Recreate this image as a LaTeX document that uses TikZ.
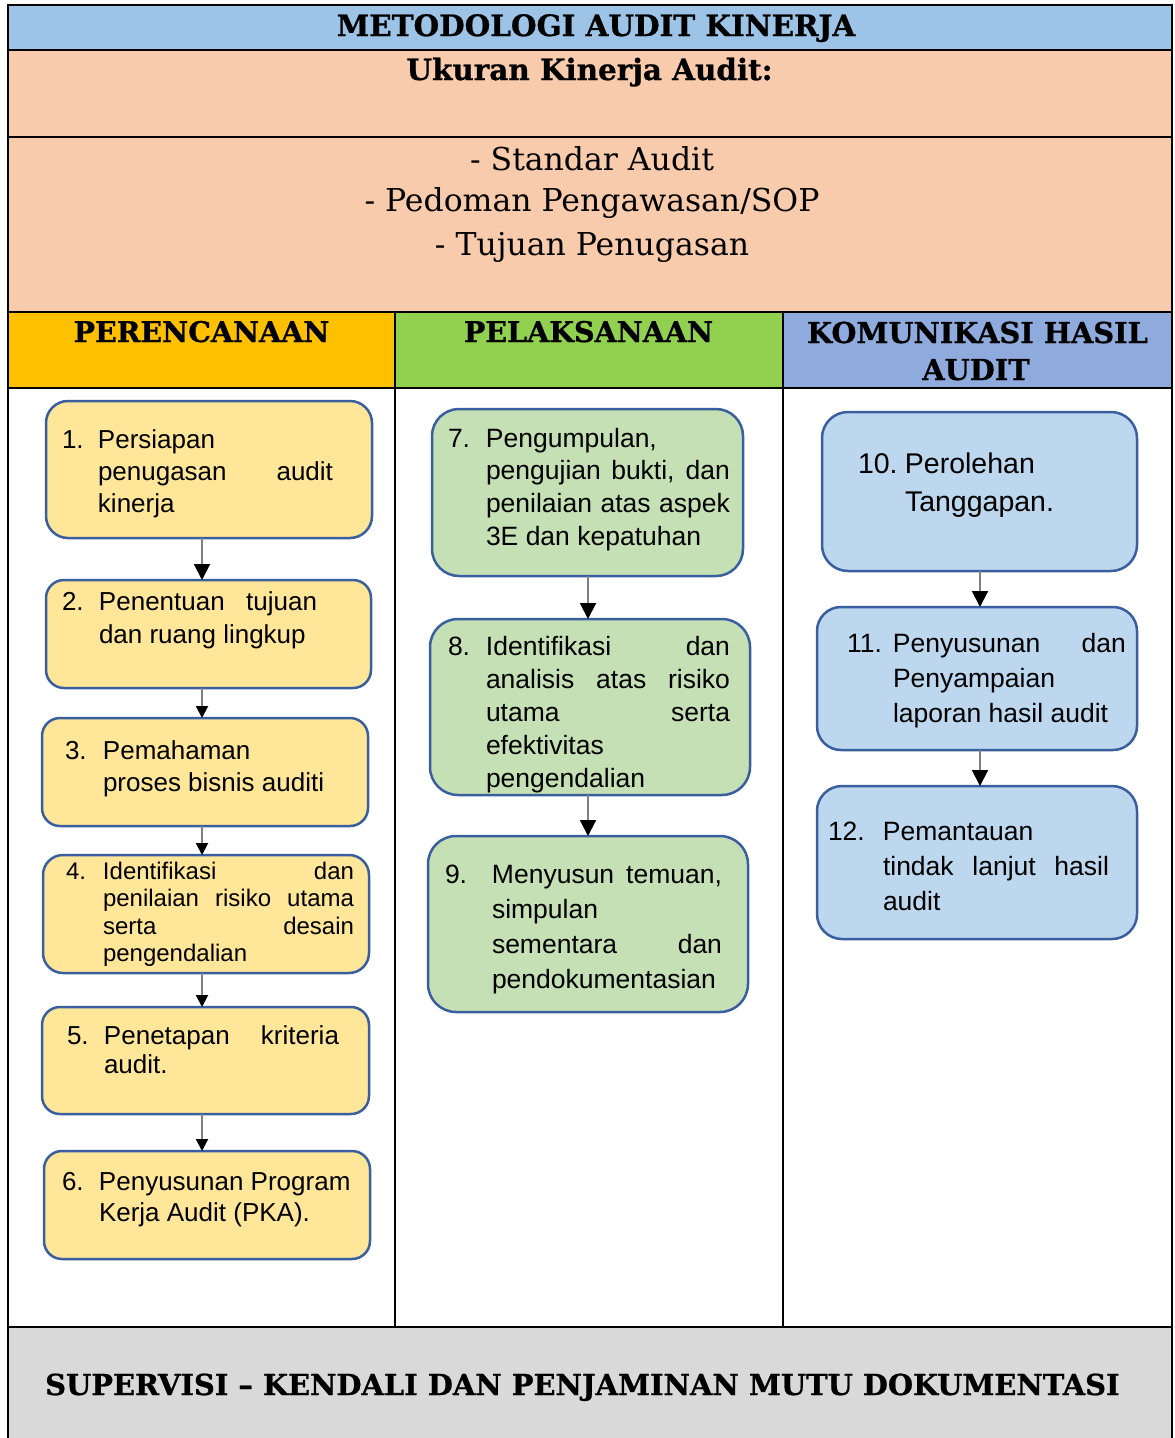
\documentclass[tikz,border=0pt]{standalone}
\usepackage{fontspec}
\setmainfont{Liberation Sans}
\newfontfamily\dserif{DejaVu Serif}
\newfontfamily\hdrfont[FakeBold=0.8]{DejaVu Serif Bold}
\usetikzlibrary{arrows.meta,calc}
\definecolor{titleblue}{HTML}{9DC3E6}
\definecolor{peach}{HTML}{F8CBAD}
\definecolor{horange}{HTML}{FFC000}
\definecolor{hgreen}{HTML}{92D050}
\definecolor{hblue}{HTML}{8FAADC}
\definecolor{lgray}{HTML}{D9D9D9}
\definecolor{byel}{HTML}{FFE699}
\definecolor{bgrn}{HTML}{C5E0B4}
\definecolor{bblu}{HTML}{BDD7EE}
\definecolor{bord}{HTML}{3A5F9E}
\newcommand{\nm}[2]{\makebox[#1pt][l]{#2}}
\newcommand{\ind}[1]{\hspace*{#1pt}}
\newcommand{\jst}[2]{\makebox[#1pt][s]{#2}}
\newcommand{\hdr}[2]{{\hdrfont\fontsize{#1}{32}\selectfont #2}}
\begin{document}
\begin{tikzpicture}[x=1pt,y=-1pt,
  frame/.style={draw=black,line width=2.5pt},
  bxs/.style={draw=bord,line width=2.5pt,anchor=north west,inner sep=0pt,outer sep=0pt},
  tx/.style={anchor=base west,inner sep=0pt,outer sep=0pt},
  arr/.style={draw=black!50,line width=2pt,-{Triangle[color=black,width=12pt,length=12pt]}},
  arrbig/.style={draw=black!50,line width=2pt,-{Triangle[color=black,width=16pt,length=16pt]}}]
\useasboundingbox (0,0) rectangle (1175,1438);
% table background
\fill[titleblue] (8,5) rectangle (1172,50);
\fill[peach] (8,50) rectangle (1172,312);
\fill[horange] (8,312) rectangle (395,388);
\fill[hgreen] (395,312) rectangle (783,388);
\fill[hblue] (783,312) rectangle (1172,388);
\fill[white] (8,388) rectangle (1172,1327);
\fill[lgray] (8,1327) rectangle (1172,1438);
\draw[frame] (8,1438) -- (8,5) -- (1172,5) -- (1172,1438);
\draw[frame] (8,50) -- (1172,50);
\draw[frame] (8,137) -- (1172,137);
\draw[frame] (8,312) -- (1172,312);
\draw[frame] (8,388) -- (1172,388);
\draw[frame] (8,1327) -- (1172,1327);
\draw[frame] (395,312) -- (395,1327);
\draw[frame] (783,312) -- (783,1327);
% header texts
\node[anchor=base,inner sep=0pt] (title) at (596,36) {\hdr{29.4}{METODOLOGI AUDIT KINERJA}};
\node[anchor=base,inner sep=0pt] (ukuran) at (589.5,80) {\hdr{29.4}{Ukuran Kinerja Audit:}};
\node[anchor=base,inner sep=0pt] (l1) at (592,170) {\dserif\fontsize{31.5}{35}\selectfont - Standar Audit};
\node[anchor=base,inner sep=0pt] (l2) at (592,211) {\dserif\fontsize{31.5}{35}\selectfont - Pedoman Pengawasan/SOP};
\node[anchor=base,inner sep=0pt] (l3) at (592,255) {\dserif\fontsize{31.5}{35}\selectfont - Tujuan Penugasan};
\node[anchor=base,inner sep=0pt] (h1) at (201.5,342) {\hdr{28.5}{PERENCANAAN}};
\node[anchor=base,inner sep=0pt] (h2) at (588.5,342) {\hdr{28.5}{PELAKSANAAN}};
\node[anchor=base,inner sep=0pt] (h3) at (977.5,343) {\hdr{28.8}{KOMUNIKASI HASIL}};
\node[anchor=base,inner sep=0pt] (h3b) at (976,380) {\hdr{28.8}{AUDIT}};
\node[anchor=base west,inner sep=0pt] (sup) at (45,1395) {\hdr{28.9}{SUPERVISI – KENDALI DAN PENJAMINAN MUTU DOKUMENTASI}};
% column 1 boxes
\node[bxs,fill=byel,minimum width=326pt,minimum height=137pt,rounded corners=22pt] (b1) at (46,401) {};
\node[bxs,fill=byel,minimum width=325pt,minimum height=108pt,rounded corners=18pt] (b2) at (46,580) {};
\node[bxs,fill=byel,minimum width=326pt,minimum height=108pt,rounded corners=18pt] (b3) at (42,718) {};
\node[bxs,fill=byel,minimum width=326pt,minimum height=118pt,rounded corners=20pt] (b4) at (43,855) {};
\node[bxs,fill=byel,minimum width=327pt,minimum height=107pt,rounded corners=18pt] (b5) at (42,1007) {};
\node[bxs,fill=byel,minimum width=326pt,minimum height=108pt,rounded corners=18pt] (b6) at (44,1151) {};
% column 2 boxes
\node[bxs,fill=bgrn,minimum width=311pt,minimum height=167pt,rounded corners=27pt] (b7) at (432,409) {};
\node[bxs,fill=bgrn,minimum width=320pt,minimum height=176pt,rounded corners=28pt] (b8) at (430,619) {};
\node[bxs,fill=bgrn,minimum width=320pt,minimum height=176pt,rounded corners=28pt] (b9) at (428,836) {};
% column 3 boxes
\node[bxs,fill=bblu,minimum width=315pt,minimum height=159pt,rounded corners=26pt] (b10) at (822,412) {};
\node[bxs,fill=bblu,minimum width=320pt,minimum height=143pt,rounded corners=24pt] (b11) at (817,607) {};
\node[bxs,fill=bblu,minimum width=320pt,minimum height=153pt,rounded corners=25pt] (b12) at (817,786) {};
% texts
\node[tx] (t1) at (62,448) {\parbox[t]{330pt}{\fontsize{26}{32.3}\selectfont\nm{36}{1.}Persiapan\\\ind{36}\jst{235}{penugasan audit}\\\ind{36}kinerja}};
\node[tx] (t2) at (62,610) {\parbox[t]{330pt}{\fontsize{26}{33}\selectfont\nm{37}{2.}\jst{218}{Penentuan tujuan}\\\ind{37}dan ruang lingkup}};
\node[tx] (t3) at (65,759) {\parbox[t]{330pt}{\fontsize{26}{32}\selectfont\nm{38}{3.}Pemahaman\\\ind{38}proses bisnis auditi}};
\node[tx] (t4) at (66,879) {\parbox[t]{330pt}{\fontsize{24}{27.5}\selectfont\nm{37}{4.}\jst{251}{Identifikasi dan}\\\ind{37}\jst{251}{penilaian risiko utama}\\\ind{37}\jst{251}{serta desain}\\\ind{37}pengendalian}};
\node[tx] (t5) at (67,1044) {\parbox[t]{330pt}{\fontsize{26}{29.5}\selectfont\nm{37}{5.}\jst{235}{Penetapan kriteria}\\\ind{37}audit.}};
\node[tx] (t6) at (62,1190) {\parbox[t]{330pt}{\fontsize{26}{31}\selectfont\nm{37}{6.}Penyusunan Program\\\ind{37}Kerja Audit (PKA).}};
\node[tx] (t7) at (448,447) {\parbox[t]{330pt}{\fontsize{26.5}{32.7}\selectfont\nm{38}{7.}Pengumpulan,\\\ind{38}\jst{244}{pengujian bukti, dan}\\\ind{38}\jst{244}{penilaian atas aspek}\\\ind{38}3E dan kepatuhan}};
\node[tx] (t8) at (448,655.5) {\parbox[t]{330pt}{\fontsize{26.5}{33}\selectfont\nm{38}{8.}\jst{244}{Identifikasi dan}\\\ind{38}\jst{244}{analisis atas risiko}\\\ind{38}\jst{244}{utama serta}\\\ind{38}efektivitas\\\ind{38}pengendalian}};
\node[tx] (t9) at (445,883) {\parbox[t]{330pt}{\fontsize{26.5}{35}\selectfont\nm{47}{9.}\jst{230}{Menyusun temuan,}\\\ind{47}simpulan\\\ind{47}\jst{230}{sementara dan}\\\ind{47}pendokumentasian}};
\node[tx] (t10) at (858,473) {\parbox[t]{330pt}{\fontsize{28.5}{38}\selectfont\nm{47}{10.}Perolehan\\\ind{47}Tanggapan.}};
\node[tx] (t11) at (847,652) {\parbox[t]{330pt}{\fontsize{26.5}{35}\selectfont\nm{46}{11.}\jst{233}{Penyusunan dan}\\\ind{46}Penyampaian\\\ind{46}laporan hasil audit}};
\node[tx] (t12) at (828,840) {\parbox[t]{330pt}{\fontsize{26.5}{35}\selectfont\nm{55}{12.}Pemantauan\\\ind{55}\jst{226}{tindak lanjut hasil}\\\ind{55}audit}};
% arrows
\coordinate (c1) at (202,0);
\coordinate (c2) at (588,0);
\coordinate (c3) at (980,0);
\draw[arrbig] (b1.south -| c1) -- (b2.north -| c1);
\draw[arr] (b2.south -| c1) -- (b3.north -| c1);
\draw[arr] (b3.south -| c1) -- (b4.north -| c1);
\draw[arr] (b4.south -| c1) -- (b5.north -| c1);
\draw[arr] (b5.south -| c1) -- (b6.north -| c1);
\draw[arrbig] (b7.south -| c2) -- (b8.north -| c2);
\draw[arrbig] (b8.south -| c2) -- (b9.north -| c2);
\draw[arrbig] (b10.south -| c3) -- (b11.north -| c3);
\draw[arrbig] (b11.south -| c3) -- (b12.north -| c3);
\end{tikzpicture}
\end{document}
